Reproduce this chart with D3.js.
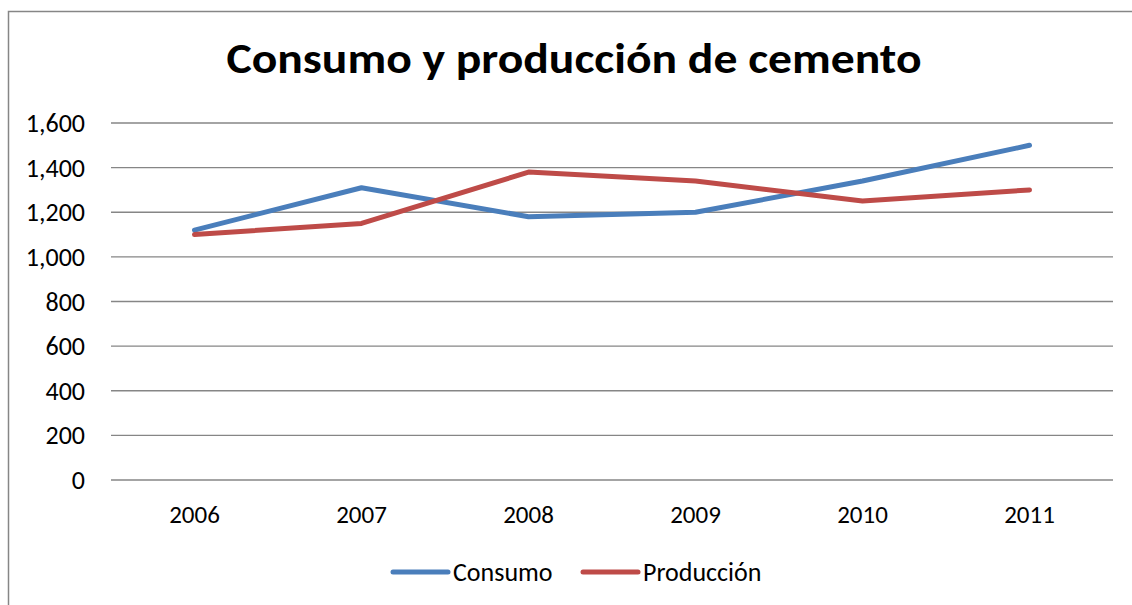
<!DOCTYPE html>
<html>
<head>
<meta charset="utf-8">
<script src="https://cdn.jsdelivr.net/npm/d3@7"></script>
<style>
  body { margin: 0; background: #fff; overflow: hidden; }
  svg { display: block; font-family: Carlito, Calibri, Lato, sans-serif; }
  .grid line { stroke: #868686; stroke-width: 1.4; }
  .axis text { fill: #000; font-size: 25px; font-family: Carlito, Calibri, Lato, sans-serif; }
  .y-axis text { font-size: 26px; }
</style>
</head>
<body>
<svg id="chart" width="1132" height="605"></svg>
<script>
const years = ['2006', '2007', '2008', '2009', '2010', '2011'];
const consumo = [1120, 1310, 1180, 1200, 1340, 1500];
const produccion = [1100, 1150, 1380, 1340, 1250, 1300];
const yTicks = [0, 200, 400, 600, 800, 1000, 1200, 1400, 1600];
const seriesNames = ['Consumo', 'Producción'];
const seriesColors = ['#4A7EBB', '#BE4B48'];

const width = 1132, height = 605;
const margin = { top: 123, right: 19, bottom: 125, left: 111 };

const svg = d3.select('#chart');

// outer chart border, only top and left edges fall inside the picture
svg.append('path')
  .attr('d', 'M8.5,605 V11.5 H1132')
  .attr('fill', 'none')
  .attr('stroke', '#868686')
  .attr('stroke-width', 1.5);

svg.append('text')
  .attr('x', 574)
  .attr('y', 73)
  .attr('text-anchor', 'middle')
  .attr('textLength', 695)
  .attr('lengthAdjust', 'spacingAndGlyphs')
  .style('font-size', '43px')
  .style('font-weight', 'bold')
  .text('Consumo y producción de cemento');

const x = d3.scaleBand()
  .domain(years)
  .range([margin.left, width - margin.right]);

const y = d3.scaleLinear()
  .domain([0, 1600])
  .range([height - margin.bottom, margin.top]);

// gridlines
svg.append('g')
  .attr('class', 'grid')
  .selectAll('line')
  .data(yTicks)
  .join('line')
  .attr('x1', margin.left)
  .attr('x2', width - margin.right)
  .attr('y1', d => y(d))
  .attr('y2', d => y(d));

// y axis labels
const yAxis = svg.append('g')
  .attr('class', 'axis y-axis')
  .attr('transform', `translate(${margin.left},0)`)
  .call(d3.axisLeft(y).tickValues(yTicks).tickFormat(d3.format(',')).tickSize(0).tickPadding(26));
yAxis.select('.domain').remove();
yAxis.selectAll('text').attr('dy', '0.33em');

// x axis labels
const xAxis = svg.append('g')
  .attr('class', 'axis x-axis')
  .attr('transform', `translate(0,${height - margin.bottom})`)
  .call(d3.axisBottom(x).tickSize(0).tickPadding(25));
xAxis.select('.domain').remove();

const line = d3.line()
  .x((d, i) => x(years[i]) + x.bandwidth() / 2)
  .y(d => y(d));

[consumo, produccion].forEach((vals, i) => {
  svg.append('path')
    .datum(vals)
    .attr('d', line)
    .attr('fill', 'none')
    .attr('stroke', seriesColors[i])
    .attr('stroke-width', 5)
    .attr('stroke-linejoin', 'round')
    .attr('stroke-linecap', 'round');
});

// legend
const legendX = [393, 583];
const legend = svg.append('g');
seriesNames.forEach((name, i) => {
  legend.append('line')
    .attr('x1', legendX[i]).attr('x2', legendX[i] + 55)
    .attr('y1', 572).attr('y2', 572)
    .attr('stroke', seriesColors[i])
    .attr('stroke-width', 5)
    .attr('stroke-linecap', 'round');
  legend.append('text')
    .attr('x', legendX[i] + 60)
    .attr('y', 572)
    .attr('dy', '0.33em')
    .style('font-size', '26px')
    .text(name);
});
</script>
</body>
</html>
